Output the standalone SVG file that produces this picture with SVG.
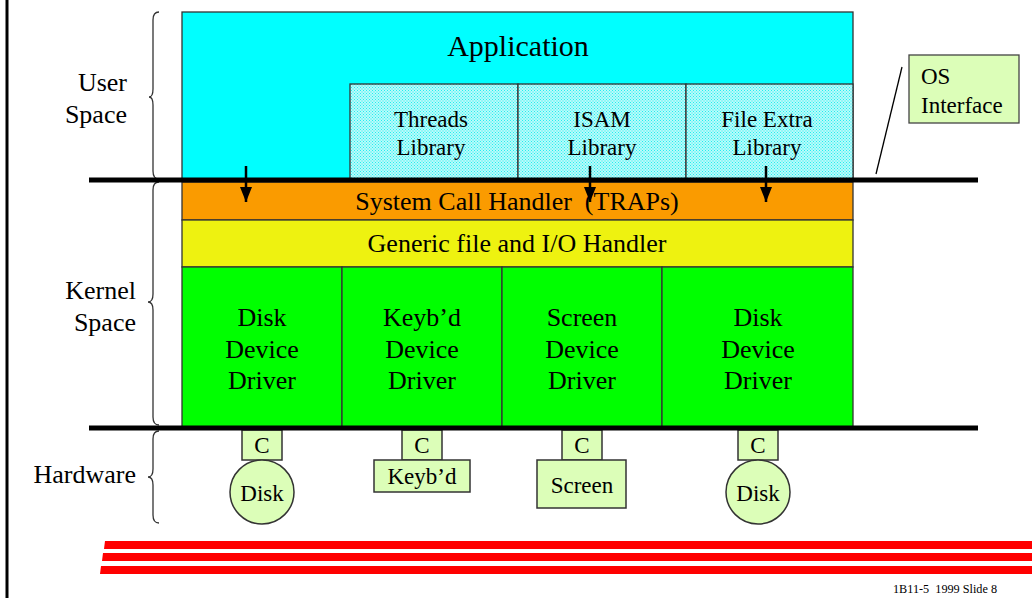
<svg xmlns="http://www.w3.org/2000/svg" width="1032" height="598" viewBox="0 0 1032 598" font-family="'Liberation Serif','Times New Roman',serif">
<style>
text{font-family:"Liberation Serif","Times New Roman",serif;fill:#000}
.big{font-size:30px}
.lib{font-size:23px}
.band{font-size:26px}
.drv{font-size:26px}
.side{font-size:26px}
.hw{font-size:23px}
.box{stroke:#333;stroke-width:1.3}
.brace{fill:none;stroke:#333;stroke-width:1.3}
.bar{stroke:#000;stroke-width:5}
.hwbox{fill:#DCFEB8;stroke:#333;stroke-width:1.5}
.arrow{stroke:#000;stroke-width:2.5}
</style>
<defs>
<pattern id="dots" width="3" height="3" patternUnits="userSpaceOnUse">
<rect width="3" height="3" fill="#B8FBFB"/>
<rect x="0" y="0" width="1" height="1" fill="#22EEEE"/>
<rect x="1.5" y="1.5" width="1" height="1" fill="#22EEEE"/>
</pattern>
<marker id="ah" viewBox="0 0 15 12" refX="15" refY="6" markerWidth="15" markerHeight="12" markerUnits="userSpaceOnUse" orient="auto">
<path d="M0,0 L15,6 L0,12 Z" fill="#000"/>
</marker>
</defs>
<rect width="1032" height="598" fill="#fff"/>
<line x1="7" y1="0" x2="7" y2="598" stroke="#000" stroke-width="3"/>

<g id="labels">
<text class="side" x="127" y="91" text-anchor="end">User</text>
<text class="side" x="127" y="123" text-anchor="end">Space</text>
<text class="side" x="136" y="299" text-anchor="end">Kernel</text>
<text class="side" x="136" y="331" text-anchor="end">Space</text>
<text class="side" x="136" y="483" text-anchor="end">Hardware</text>
</g>
<g id="braces">
<path class="brace" d="M159,12 Q153,12 153,20 L153,89 Q153,97 149,97 Q153,97 153,105 L153,171 Q153,179 159,179"/>
<path class="brace" d="M159,182 Q153,182 153,190 L153,294 Q153,302 148,302 Q153,302 153,310 L153,417 Q153,425 159,425"/>
<path class="brace" d="M159,431 Q153,431 153,439 L153,469 Q153,477 148,477 Q153,477 153,485 L153,515 Q153,523 159,523"/>
</g>

<g id="application">
<rect class="box" x="182" y="12" width="671" height="168" fill="#00FFFF"/>
<text class="big" x="518" y="56" text-anchor="middle">Application</text>
</g>
<g id="threads">
<rect class="box" x="350" y="84" width="168" height="96" fill="url(#dots)"/>
<text class="lib" x="431" y="127" text-anchor="middle">Threads</text>
<text class="lib" x="431" y="155" text-anchor="middle">Library</text>
</g>
<g id="isam">
<rect class="box" x="518" y="84" width="168" height="96" fill="url(#dots)"/>
<text class="lib" x="602" y="127" text-anchor="middle">ISAM</text>
<text class="lib" x="602" y="155" text-anchor="middle">Library</text>
</g>
<g id="fileextra">
<rect class="box" x="686" y="84" width="167" height="96" fill="url(#dots)"/>
<text class="lib" x="767" y="127" text-anchor="middle">File Extra</text>
<text class="lib" x="767" y="155" text-anchor="middle">Library</text>
</g>
<g id="syscall">
<rect class="box" x="182" y="182" width="671" height="38" fill="#FA9B00"/>
<text class="band" x="517" y="210" text-anchor="middle" xml:space="preserve">System Call Handler  (TRAPs)</text>
</g>
<g id="generic">
<rect class="box" x="182" y="220" width="671" height="47" fill="#EEF210"/>
<text class="band" x="517" y="252" text-anchor="middle">Generic file and I/O Handler</text>
</g>
<g id="drv1">
<rect class="box" x="182" y="267" width="160" height="160" fill="#00FF00"/>
<text class="drv" x="262" y="326" text-anchor="middle">Disk</text>
<text class="drv" x="262" y="358" text-anchor="middle">Device</text>
<text class="drv" x="262" y="389" text-anchor="middle">Driver</text>
</g>
<g id="drv2">
<rect class="box" x="342" y="267" width="160" height="160" fill="#00FF00"/>
<text class="drv" x="422" y="326" text-anchor="middle">Keyb’d</text>
<text class="drv" x="422" y="358" text-anchor="middle">Device</text>
<text class="drv" x="422" y="389" text-anchor="middle">Driver</text>
</g>
<g id="drv3">
<rect class="box" x="502" y="267" width="160" height="160" fill="#00FF00"/>
<text class="drv" x="582" y="326" text-anchor="middle">Screen</text>
<text class="drv" x="582" y="358" text-anchor="middle">Device</text>
<text class="drv" x="582" y="389" text-anchor="middle">Driver</text>
</g>
<g id="drv4">
<rect class="box" x="662" y="267" width="191" height="160" fill="#00FF00"/>
<text class="drv" x="758" y="326" text-anchor="middle">Disk</text>
<text class="drv" x="758" y="358" text-anchor="middle">Device</text>
<text class="drv" x="758" y="389" text-anchor="middle">Driver</text>
</g>

<g id="osinterface">
<rect x="909" y="55" width="110" height="68" fill="#DCFEB8" stroke="#444" stroke-width="1.3"/>
<text class="lib" x="921" y="84">OS</text>
<text class="lib" x="921" y="113">Interface</text>
</g>

<g id="hw-disk1">
<rect class="hwbox" x="242" y="430" width="40" height="30"/>
<text class="hw" x="262" y="453" text-anchor="middle">C</text>
<circle class="hwbox" cx="262" cy="492" r="32"/>
<text class="hw" x="262" y="501" text-anchor="middle">Disk</text>
</g>
<g id="hw-keyb">
<rect class="hwbox" x="402" y="430" width="40" height="30"/>
<text class="hw" x="422" y="453" text-anchor="middle">C</text>
<rect class="hwbox" x="374" y="460" width="96" height="32"/>
<text class="hw" x="422" y="484" text-anchor="middle">Keyb’d</text>
</g>
<g id="hw-screen">
<rect class="hwbox" x="562" y="430" width="40" height="30"/>
<text class="hw" x="582" y="453" text-anchor="middle">C</text>
<rect class="hwbox" x="537" y="460" width="89" height="48"/>
<text class="hw" x="582" y="493" text-anchor="middle">Screen</text>
</g>
<g id="hw-disk2">
<rect class="hwbox" x="738" y="430" width="40" height="30"/>
<text class="hw" x="758" y="453" text-anchor="middle">C</text>
<circle class="hwbox" cx="758" cy="492" r="32"/>
<text class="hw" x="758" y="501" text-anchor="middle">Disk</text>
</g>

<g id="connectors">
<line class="bar" x1="89" y1="180" x2="978" y2="180"/>
<line class="bar" x1="89" y1="428" x2="978" y2="428"/>
<line class="arrow" x1="246" y1="166" x2="246" y2="202" marker-end="url(#ah)"/>
<line class="arrow" x1="590" y1="166" x2="590" y2="202" marker-end="url(#ah)"/>
<line class="arrow" x1="766" y1="166" x2="766" y2="202" marker-end="url(#ah)"/>
<line x1="902" y1="67" x2="876" y2="174" stroke="#000" stroke-width="1.3"/>
</g>

<g id="redbars" fill="#FF0000">
<polygon points="105,541 1032,541 1032,549 104,549"/>
<polygon points="103,553 1032,553 1032,561 102,561"/>
<polygon points="101,566 1032,566 1032,574 100,574"/>
</g>
<text x="893" y="593" font-size="12" textLength="104" lengthAdjust="spacingAndGlyphs" xml:space="preserve">1B11-5  1999 Slide 8</text>
</svg>
